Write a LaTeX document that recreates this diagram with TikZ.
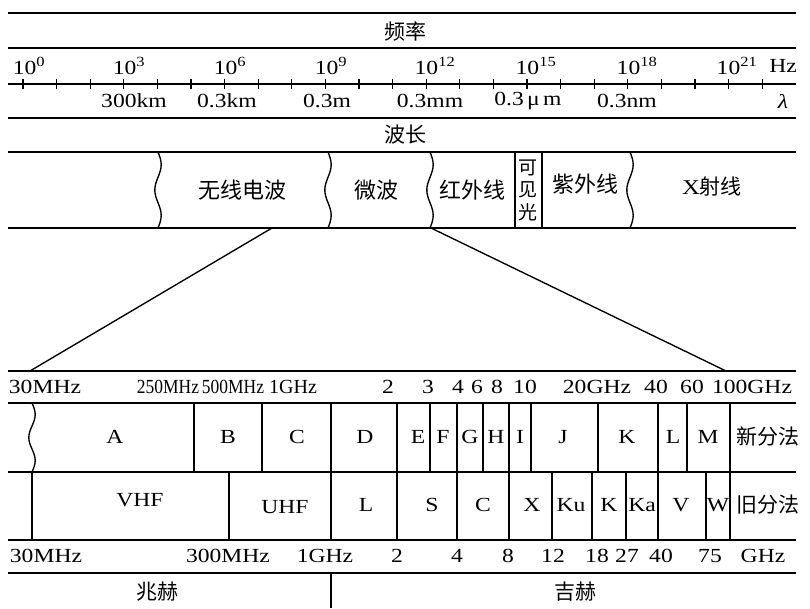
\documentclass[tikz,border=0pt]{standalone}
\usepackage{fontspec}
\usepackage{graphicx}
\setmainfont{Liberation Serif}[FakeStretch=1.18]
\newfontfamily\cjk{Noto Sans CJK SC}
\newcommand\mywave[3]{\draw[ln] plot[smooth, domain=0:1, samples=25, variable=\t] ({#1+3.2*sin(540*\t)}, {#2+(#3-#2)*\t});}
\begin{document}
\begin{tikzpicture}[x=1pt,y=-1pt,
  ln/.style={line width=1.35pt},
  lat/.style={font=\fontsize{20}{21}\selectfont, inner sep=0pt},
  zh/.style={font=\cjk\fontsize{21}{22}\selectfont, inner sep=0pt},
  zhb/.style={font=\cjk\fontsize{22}{22}\selectfont, inner sep=0pt},
  zhs/.style={font=\cjk\fontsize{19}{20}\selectfont, inner sep=0pt},
]
\useasboundingbox (0,0) rectangle (810,608);
\fill[white] (0,0) rectangle (810,608);
% horizontal rules
\foreach \yy in {13,48,84,118,152,228,371,403,472,540,573}
  \draw[ln] (8,\yy) -- (796,\yy);
% ticks
\foreach \i in {0,...,22}
  \draw[ln] ({23+33.6*\i},79) -- ({23+33.6*\i},89);
% headings
\node[zh] (freq) at (405,31) {频率};
\node[zh] (wavel) at (405,135) {波长};
% frequency labels
\node[lat] (f0) at (29,66) {10\textsuperscript{0}};
\node[lat] (f3) at (129,66) {10\textsuperscript{3}};
\node[lat] (f6) at (230,66) {10\textsuperscript{6}};
\node[lat] (f9) at (331,66) {10\textsuperscript{9}};
\node[lat] (f12) at (435,66) {10\textsuperscript{12}};
\node[lat] (f15) at (536,66) {10\textsuperscript{15}};
\node[lat] (f18) at (637,66) {10\textsuperscript{18}};
\node[lat] (f21) at (737,66) {10\textsuperscript{21}};
\node[lat] (hz) at (783,66) {Hz};
% wavelength labels
\node[lat] (w1) at (134,101) {300km};
\node[lat] (w2) at (227,101) {0.3km};
\node[lat] (w3) at (327,101) {0.3m};
\node[lat] (w4) at (430,101) {0.3mm};
\node[lat] (w5) at (528,101) {0.3\,μ\,m};
\node[lat] (w6) at (627,101) {0.3nm};
\node[lat] (lam) at (783,101) {\textit{λ}};
% spectrum band
\mywave{158}{152}{228}
\mywave{328}{152}{228}
\mywave{430}{152}{228}
\mywave{630}{152}{228}
\draw[ln] (515,152) -- (515,228);
\draw[ln] (542,152) -- (542,228);
\node[zhb] (radio) at (242,190) {无线电波};
\node[zhb] (micro) at (376,190) {微波};
\node[zhb] (ir) at (472,190) {红外线};
\node[zhs] (vis1) at (528,168) {可};
\node[zhs] (vis2) at (528,190) {见};
\node[zhs] (vis3) at (528,212) {光};
\node[zhb] (uv) at (585,184) {紫外线};
\node[zhb,font=\fontsize{21}{22}\selectfont] (xray) at (712,187) {X\cjk 射线};
% zoom lines
\coordinate (tl) at (272,228);
\coordinate (tr) at (431,228);
\coordinate (bl) at (30,371);
\coordinate (br) at (726,371);
\draw[ln] (tl) -- (bl);
\draw[ln] (tr) -- (br);
% upper frequency labels
\node[lat] (u1) at (45,387) {30MHz};
\node[lat] (u2) at (168,387) {\scalebox{0.74}[1]{250MHz}};
\node[lat] (u3) at (233,387) {\scalebox{0.74}[1]{500MHz}};
\node[lat] (u4) at (293,387) {\scalebox{0.85}[1]{1GHz}};
\node[lat] (u5) at (388,387) {2};
\node[lat] (u6) at (428,387) {3};
\node[lat] (u7) at (458,387) {4};
\node[lat] (u8) at (477,387) {6};
\node[lat] (u9) at (497,387) {8};
\node[lat] (u10) at (525,387) {10};
\node[lat] (u11) at (597,387) {20GHz};
\node[lat] (u12) at (656,387) {40};
\node[lat] (u13) at (692,387) {60};
\node[lat] (u14) at (752,387) {100GHz};
% row 1 (new designation)
\mywave{32}{403}{472}
\foreach \xx in {194,262,331,397,430,457,483,509,531,598,658,687}
  \draw[ln] (\xx,403) -- (\xx,472);
\draw[ln] (730,403) -- (730,540);
\node[lat] (nA) at (115,437) {A};
\node[lat] (nB) at (228,437) {B};
\node[lat] (nC) at (297,437) {C};
\node[lat] (nD) at (365,437) {D};
\node[lat] (nE) at (418,437) {E};
\node[lat] (nF) at (443,437) {F};
\node[lat] (nG) at (470,437) {G};
\node[lat] (nH) at (496,437) {H};
\node[lat] (nI) at (520,437) {I};
\node[lat] (nJ) at (563,437) {J};
\node[lat] (nK) at (627,437) {K};
\node[lat] (nL) at (673,437) {L};
\node[lat] (nM) at (708,437) {M};
\node[zh] (newd) at (768,437) {新分法};
% row 2 (old designation)
\foreach \xx in {32,229,331,397,457,509,552,592,626,658,706}
  \draw[ln] (\xx,472) -- (\xx,540);
\node[lat] (oV) at (140,500) {VHF};
\node[lat] (oU) at (285,507) {UHF};
\node[lat] (oL) at (366,505) {L};
\node[lat] (oS) at (432,505) {S};
\node[lat] (oC) at (483,505) {C};
\node[lat] (oX) at (532,505) {X};
\node[lat] (oKu) at (571,505) {Ku};
\node[lat] (oK) at (609,505) {K};
\node[lat] (oKa) at (642,505) {Ka};
\node[lat] (oVv) at (681,505) {V};
\node[lat] (oW) at (718,505) {W};
\node[zh] (oldd) at (768,505) {旧分法};
% lower frequency labels
\node[lat] (b1) at (46,556) {30MHz};
\node[lat] (b2) at (228,556) {300MHz};
\node[lat] (b3) at (325,556) {1GHz};
\node[lat] (b4) at (397,556) {2};
\node[lat] (b5) at (457,556) {4};
\node[lat] (b6) at (508,556) {8};
\node[lat] (b7) at (553,556) {12};
\node[lat] (b8) at (597,556) {18};
\node[lat] (b9) at (627,556) {27};
\node[lat] (b10) at (661,556) {40};
\node[lat] (b11) at (710,556) {75};
\node[lat] (b12) at (763,556) {GHz};
% units
\draw[ln] (331,573) -- (331,608);
\node[zh] (mhz) at (157,592) {兆赫};
\node[zh] (ghz) at (575,592) {吉赫};
\end{tikzpicture}
\end{document}
